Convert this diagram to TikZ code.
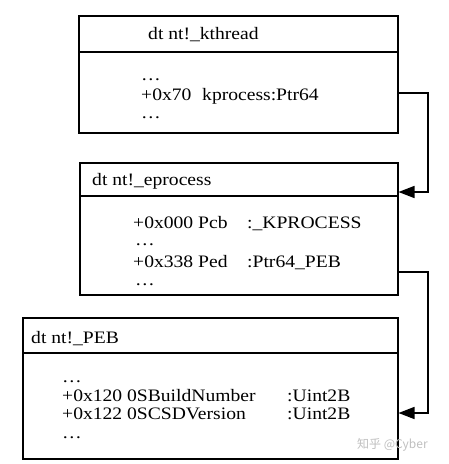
\documentclass[tikz,border=0pt]{standalone}
\usepackage{fontspec}
\setmainfont{Liberation Serif}[FakeStretch=1.12]
\newfontfamily\cjk{Noto Sans CJK SC}
\usetikzlibrary{arrows.meta}
\begin{document}
\begin{tikzpicture}[x=1pt,y=-1pt,
  box/.style={draw,line width=1.5pt,rectangle,inner sep=0pt,anchor=north west},
  sep/.style={line width=1.5pt},
  txt/.style={anchor=base west,inner sep=0pt,font=\fontsize{17.5}{18}\selectfont},
  arr/.style={line width=1.5pt,-{Triangle[length=16pt,width=12pt]}},
  wm/.style={anchor=base west,inner sep=0pt,text=black!25,font=\cjk\fontsize{12}{12}\selectfont}]
\useasboundingbox (0,0) rectangle (448,464);
% box 1
\node[box,minimum width=319pt,minimum height=117pt] (b1) at (78,15) {};
\draw[sep] (b1.west |- 0,52) -- (b1.east |- 0,52);
\node[txt] (t1) at (148,39) {dt nt!\_kthread};
\node[txt] (d1a) at (141,80) {…};
\node[txt] (k1) at (141,100) {+0x70};
\node[txt] (k2) at (202,100) {kprocess:Ptr64};
\node[txt] (d1b) at (141,118) {…};
% box 2
\node[box,minimum width=318pt,minimum height=132pt] (b2) at (79,162) {};
\draw[sep] (b2.west |- 0,196) -- (b2.east |- 0,196);
\node[txt] (t2) at (92,185) {dt nt!\_eprocess};
\node[txt] (e1) at (133,228) {+0x000 Pcb};
\node[txt] (e2) at (247,228) {:\_KPROCESS};
\node[txt] (d2a) at (135,245) {…};
\node[txt] (e3) at (133,267) {+0x338 Ped};
\node[txt] (e4) at (247,267) {:Ptr64\_PEB};
\node[txt] (d2b) at (135,285) {…};
% box 3
\node[box,minimum width=375pt,minimum height=141pt] (b3) at (22,317) {};
\draw[sep] (b3.west |- 0,353) -- (b3.east |- 0,353);
\node[txt] (t3) at (31,343) {dt nt!\_PEB};
\node[txt] (d3a) at (62,382) {…};
\node[txt] (p1) at (62,401) {+0x120 0SBuildNumber};
\node[txt] (p2) at (287,401) {:Uint2B};
\node[txt] (p3) at (62,419) {+0x122 0SCSDVersion};
\node[txt] (p4) at (287,419) {:Uint2B};
\node[txt] (d3b) at (62,438) {…};
% connectors
\coordinate (c1) at (b1.east |- 0,93);
\coordinate (c2) at (b2.east |- 0,192);
\coordinate (c3) at (b2.east |- 0,272);
\coordinate (c4) at (b3.east |- 0,413);
\draw[arr] (c1) -- (428,93) |- (c2);
\draw[arr] (c3) -- (428,272) |- (c4);
% watermark
\node[wm] (w) at (357,448) {知乎 @Cyber};
\end{tikzpicture}
\end{document}
